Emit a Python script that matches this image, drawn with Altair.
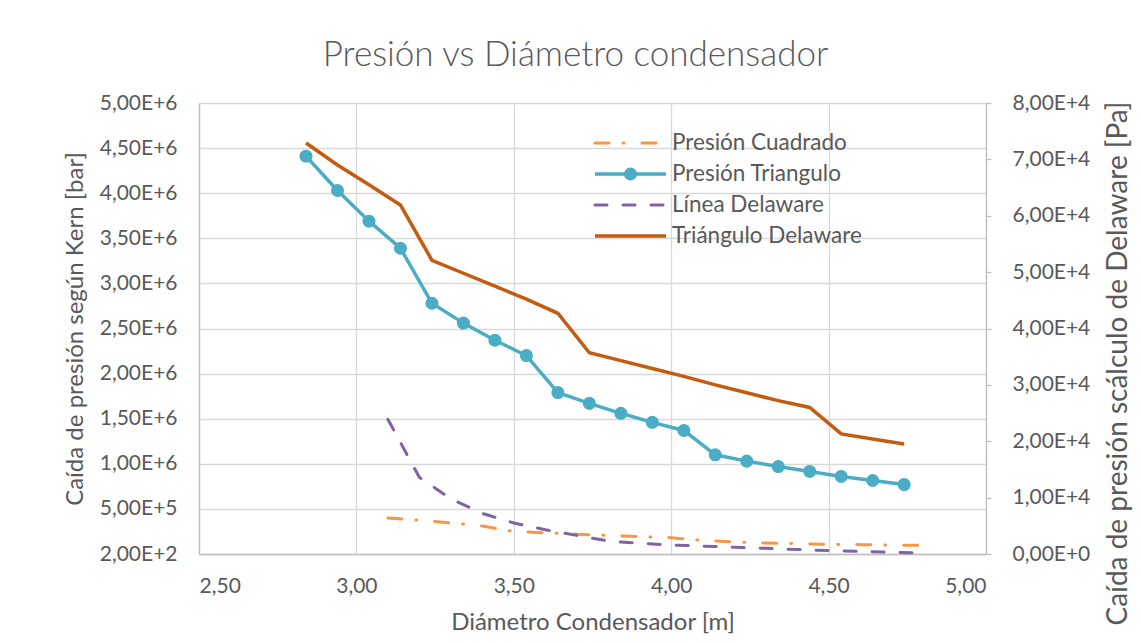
import altair as alt
import pandas as pd

# ---- data ----
series_names = ["Presión Cuadrado", "Presión Triangulo", "Línea Delaware", "Triángulo Delaware"]

# Kern (left axis, bar)
x_tri = [2.84, 2.94, 3.04, 3.14, 3.24, 3.34, 3.44, 3.54, 3.64, 3.74,
         3.84, 3.94, 4.04, 4.14, 4.24, 4.34, 4.44, 4.54, 4.64, 4.74]
p_tri = [4.41e6, 4.03e6, 3.69e6, 3.39e6, 2.78e6, 2.56e6, 2.37e6, 2.20e6, 1.79e6, 1.67e6,
         1.56e6, 1.46e6, 1.37e6, 1.10e6, 1.03e6, 0.97e6, 0.915e6, 0.86e6, 0.815e6, 0.77e6]

x_cua = [3.1, 3.2, 3.3, 3.4, 3.5, 3.6, 3.7, 3.8, 3.9, 4.0,
         4.1, 4.2, 4.3, 4.4, 4.5, 4.6, 4.7, 4.8]
p_cua = [0.40e6, 0.375e6, 0.345e6, 0.31e6, 0.25e6, 0.235e6, 0.22e6, 0.205e6, 0.193e6, 0.181e6,
         0.152e6, 0.133e6, 0.122e6, 0.115e6, 0.107e6, 0.104e6, 0.100e6, 0.096e6]

# Delaware (right axis, Pa)
x_lin = [3.1, 3.2, 3.3, 3.4, 3.5, 3.6, 3.7, 3.8, 3.9, 4.0,
         4.1, 4.2, 4.3, 4.4, 4.5, 4.6, 4.7, 4.8]
p_lin = [2.39e4, 1.36e4, 0.98e4, 0.72e4, 0.55e4, 0.43e4, 0.33e4, 0.23e4, 0.19e4, 0.16e4,
         0.14e4, 0.12e4, 0.10e4, 0.08e4, 0.06e4, 0.045e4, 0.03e4, 0.02e4]

x_tdl = [2.84, 2.94, 3.04, 3.14, 3.24, 3.34, 3.44, 3.54, 3.64, 3.74,
         3.84, 3.94, 4.04, 4.14, 4.24, 4.34, 4.44, 4.54, 4.64, 4.74]
p_tdl = [7.29e4, 6.90e4, 6.55e4, 6.19e4, 5.21e4, 4.98e4, 4.75e4, 4.52e4, 4.27e4, 3.57e4,
         3.43e4, 3.29e4, 3.15e4, 3.00e4, 2.86e4, 2.72e4, 2.60e4, 2.13e4, 2.04e4, 1.95e4]

x_ticks = [2.5, 3.0, 3.5, 4.0, 4.5, 5.0]
left_ticks = [200 + 500000 * k for k in range(11)]
right_ticks = [10000 * k for k in range(9)]

colors = ["#F79646", "#4BACC6", "#8064A2", "#C55A11"]
dashes = [[14, 14, 1, 18], [1, 0], [12, 16], [1, 0]]

FONT = "Lato"
GREY = "#595959"

df_cua = pd.DataFrame({"x": x_cua, "y": p_cua})
df_tri = pd.DataFrame({"x": x_tri, "y": p_tri})
df_lin = pd.DataFrame({"x": x_lin, "y": p_lin})
df_tdl = pd.DataFrame({"x": x_tdl, "y": p_tdl})

sci = "replace(replace(format(datum.value, '.2e'), '.', ','), 'e', 'E')"

x_enc = alt.X(
    "x:Q",
    scale=alt.Scale(domain=[2.5, 5.0], nice=False, zero=False),
    axis=alt.Axis(
        values=x_ticks,
        labelExpr="replace(format(datum.value, '.2f'), '.', ',')",
        title="Diámetro Condensador [m]",
        grid=True, gridColor="#d9d9d9", gridWidth=1.3,
        domainColor="#bfbfbf", domainWidth=1.3, ticks=False,
        labelFont=FONT, labelFontSize=21, labelColor=GREY, labelPadding=21,
        titleFont=FONT, titleFontSize=24, titleColor=GREY, titleFontWeight="normal",
        titlePadding=14,
    ),
)

y_left_scale = alt.Scale(domain=[200, 5000200], nice=False, zero=False)
y_left_axis = alt.Axis(
    orient="left", values=left_ticks, labelExpr=sci,
    title="Caída de presión según Kern [bar]",
    grid=True, gridColor="#d9d9d9", gridWidth=1.3,
    domainColor="#bfbfbf", domainWidth=1.3, ticks=False,
    labelFont=FONT, labelFontSize=21, labelColor=GREY, labelPadding=22,
    titleFont=FONT, titleFontSize=24, titleColor=GREY, titleFontWeight="normal",
    titlePadding=12,
)
y_right_scale = alt.Scale(domain=[0, 80000], nice=False, zero=False)
y_right_axis = alt.Axis(
    orient="right", values=right_ticks, labelExpr=sci,
    title="Caída de presión scálculo de Delaware [Pa]",
    grid=False, domainColor="#bfbfbf", domainWidth=1.3,
    ticks=True, tickSize=5, tickColor="#bfbfbf", tickWidth=1.3,
    labelFont=FONT, labelFontSize=21, labelColor=GREY, labelPadding=21,
    titleFont=FONT, titleFontSize=28, titleColor=GREY, titleFontWeight="normal",
    titleAngle=270, titleBaseline="middle", titleAlign="center",
    titleX=132, titleY=260,
)

def yl():
    return alt.Y("y:Q", scale=y_left_scale, axis=y_left_axis)

cua = alt.Chart(df_cua).mark_line(
    color=colors[0], strokeWidth=3, strokeDash=dashes[0], strokeCap="round"
).encode(x=x_enc, y=yl())
tri = alt.Chart(df_tri).mark_line(color=colors[1], strokeWidth=3.5).encode(x=x_enc, y=yl())
tri_pts = alt.Chart(df_tri).mark_point(
    filled=True, shape="circle", size=170, color=colors[1], opacity=1
).encode(x=x_enc, y=yl())

left = alt.layer(cua, tri, tri_pts)

y_r = alt.Y("y:Q", scale=y_right_scale, axis=y_right_axis)
lin = alt.Chart(df_lin).mark_line(
    color=colors[2], strokeWidth=3, strokeDash=dashes[2], strokeCap="round"
).encode(x=x_enc, y=y_r)
tdl = alt.Chart(df_tdl).mark_line(color=colors[3], strokeWidth=3.5).encode(x=x_enc, y=y_r)
right = alt.layer(lin, tdl)

# ---- custom legend (inside plot, top right) ----
leg_x0, leg_x1, leg_tx = 396, 467, 473
leg_rows = [40, 71, 102, 133]
leg_layers = []
for i, name in enumerate(series_names):
    d = pd.DataFrame({"label": [name]})
    rule_kwargs = dict(color=colors[i], strokeWidth=3.5 if dashes[i] == [1, 0] else 3)
    if dashes[i] != [1, 0]:
        rule_kwargs["strokeDash"] = dashes[i]
        rule_kwargs["strokeCap"] = "round"
    leg_layers.append(
        alt.Chart(d).mark_rule(**rule_kwargs).encode(
            x=alt.value(leg_x0), x2=alt.value(leg_x1), y=alt.value(leg_rows[i])
        )
    )
    if i == 1:
        leg_layers.append(
            alt.Chart(d).mark_point(filled=True, shape="circle", size=170,
                                    color=colors[1], opacity=1).encode(
                x=alt.value((leg_x0 + leg_x1) / 2), y=alt.value(leg_rows[i])
            )
        )
    leg_layers.append(
        alt.Chart(d).mark_text(align="left", baseline="middle", font=FONT,
                               fontSize=22.5, color=GREY).encode(
            x=alt.value(leg_tx), y=alt.value(leg_rows[i]), text="label:N"
        )
    )
legend = alt.layer(*leg_layers)

chart = alt.layer(left, right, legend).resolve_scale(y="independent").properties(
    width=787, height=451,
    title=alt.TitleParams(
        "Presión vs Diámetro condensador", font=FONT, fontSize=35,
        fontWeight=300, color=GREY, anchor="middle", dx=-17, offset=19,
    ),
    autosize=alt.AutoSizeParams(type="none"),
    padding={"left": 191, "top": 95, "right": 147, "bottom": 81},
).configure_view(stroke=None).configure(background="white")

chart.save("out.html", embed_options={"renderer": "svg", "actions": False})
